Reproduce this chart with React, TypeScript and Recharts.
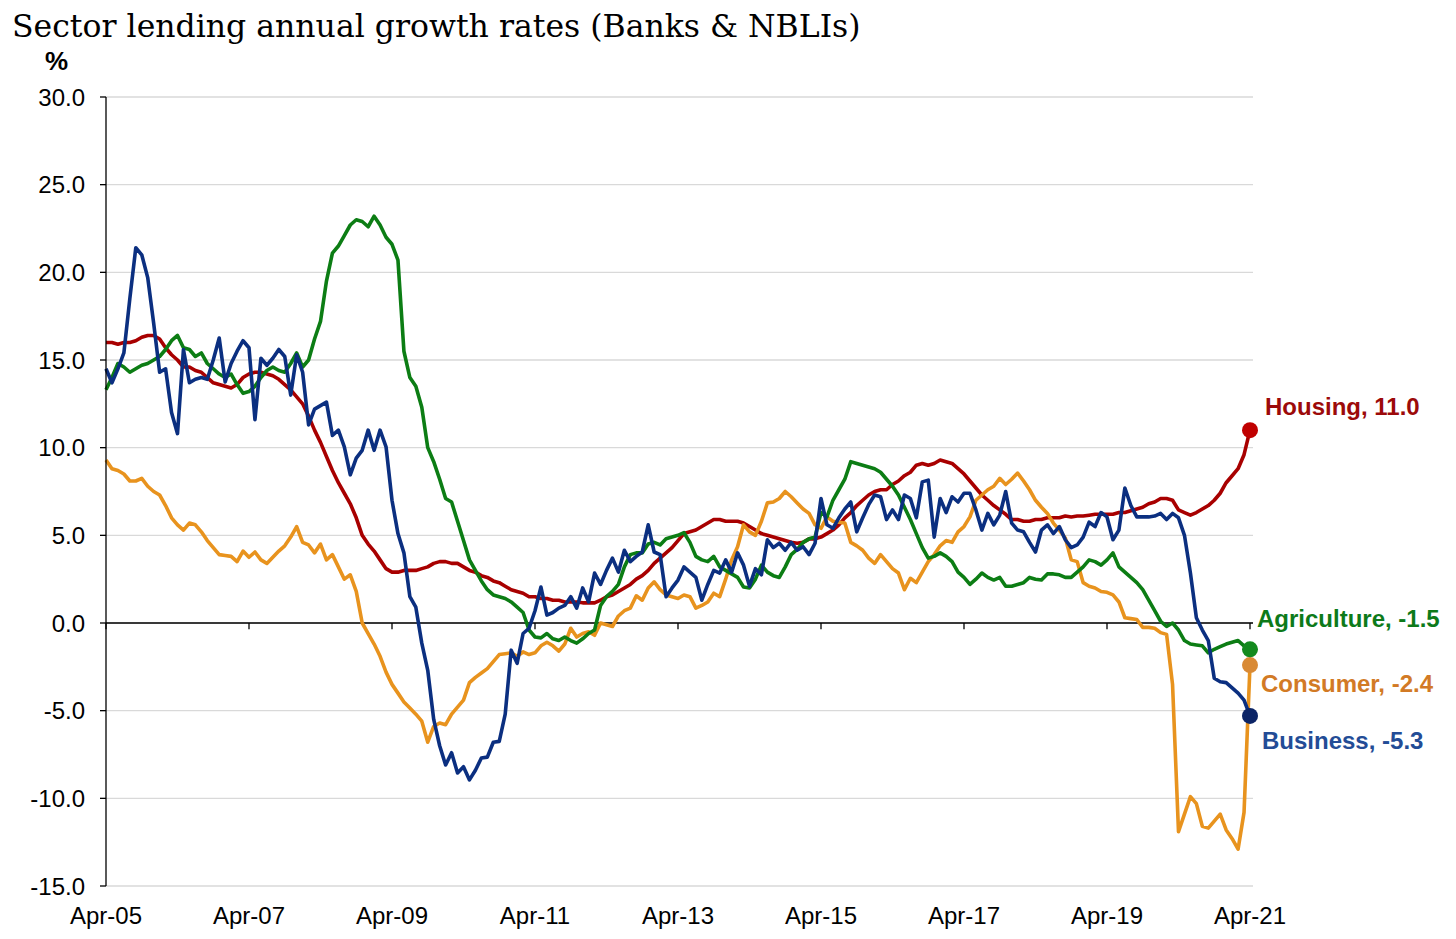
import { LineChart, Line, XAxis, YAxis, CartesianGrid, ReferenceLine, ReferenceDot } from 'recharts'

const MONTH_NAMES = ['Jan', 'Feb', 'Mar', 'Apr', 'May', 'Jun', 'Jul', 'Aug', 'Sep', 'Oct', 'Nov', 'Dec']

// monthly categories, Apr-05 .. Apr-21
const MONTHS = Array.from({ length: 193 }, (_, i) => {
  const m = 3 + i
  return `${MONTH_NAMES[m % 12]}-${String(5 + Math.floor(m / 12)).padStart(2, '0')}`
})

const TICK_LABELS = ['Apr-05', 'Apr-07', 'Apr-09', 'Apr-11', 'Apr-13', 'Apr-15', 'Apr-17', 'Apr-19', 'Apr-21']
const Y_TICKS = [-15, -10, -5, 0, 5, 10, 15, 20, 25, 30]

const HOUSING = [
  16.0, 16.0, 15.9, 16.0, 16.0, 16.1, 16.3, 16.4, 16.4, 16.2, 15.7, 15.3,
  15.0, 14.6, 14.6, 14.4, 14.3, 14.0, 13.7, 13.6, 13.5, 13.4, 13.6, 14.0,
  14.2, 14.3, 14.3, 14.2, 14.1, 13.9, 13.6, 13.3, 12.9, 12.5, 11.8, 11.0,
  10.3, 9.5, 8.7, 8.0, 7.4, 6.8, 6.0, 5.0, 4.5, 4.1, 3.6, 3.1,
  2.9, 2.9, 3.0, 3.0, 3.0, 3.1, 3.2, 3.4, 3.5, 3.5, 3.4, 3.4,
  3.2, 3.0, 2.9, 2.7, 2.6, 2.4, 2.3, 2.1, 1.9, 1.8, 1.7, 1.5,
  1.5, 1.4, 1.4, 1.3, 1.3, 1.2, 1.2, 1.2, 1.15, 1.15, 1.15, 1.3,
  1.5, 1.6, 1.8, 2.0, 2.2, 2.5, 2.7, 3.0, 3.4, 3.7, 4.0, 4.3,
  4.7, 5.1, 5.2, 5.3, 5.5, 5.7, 5.9, 5.9, 5.8, 5.8, 5.8, 5.7,
  5.5, 5.3, 5.1, 5.0, 4.9, 4.8, 4.7, 4.6, 4.55, 4.6, 4.8, 4.8,
  4.9, 5.1, 5.3, 5.6, 6.0, 6.3, 6.7, 7.0, 7.3, 7.5, 7.6, 7.6,
  7.9, 8.1, 8.4, 8.6, 9.0, 9.1, 9.0, 9.1, 9.3, 9.2, 9.1, 8.8,
  8.5, 8.1, 7.7, 7.3, 7.0, 6.7, 6.45, 6.2, 5.9, 5.9, 5.8, 5.8,
  5.9, 5.9, 6.0, 6.0, 6.0, 6.1, 6.05, 6.1, 6.1, 6.15, 6.2, 6.2,
  6.2, 6.2, 6.3, 6.3, 6.4, 6.5, 6.6, 6.8, 6.9, 7.1, 7.1, 7.0,
  6.45, 6.3, 6.15, 6.3, 6.5, 6.7, 7.0, 7.4, 8.0, 8.4, 8.8, 9.6,
  11.0,
]

const AGRICULTURE = [
  13.3, 14.0, 14.8, 14.6, 14.3, 14.5, 14.7, 14.8, 15.0, 15.2, 15.6, 16.1,
  16.4, 15.7, 15.6, 15.2, 15.4, 14.8, 14.5, 14.2, 14.0, 14.2, 13.6, 13.1,
  13.2, 13.5, 14.0, 14.4, 14.6, 14.4, 14.3, 14.8, 15.4, 14.6, 15.0, 16.2,
  17.2, 19.5, 21.1, 21.5, 22.1, 22.7, 23.0, 22.9, 22.6, 23.2, 22.7, 22.0,
  21.6, 20.7, 15.5, 14.0, 13.5, 12.3, 10.0, 9.2, 8.2, 7.1, 6.9, 5.8,
  4.7, 3.6, 3.0, 2.4, 1.9, 1.6, 1.5, 1.4, 1.2, 0.9, 0.6, -0.4,
  -0.8, -0.85, -0.6, -0.9, -1.0, -0.8, -1.0, -1.15, -0.9, -0.6, -0.4, 1.0,
  1.5, 1.8, 2.2, 3.2, 3.9, 4.0, 4.0, 4.5, 4.6, 4.45, 4.8, 4.9,
  5.0, 5.15, 4.6, 3.8, 3.6, 3.5, 3.8, 3.2, 3.0, 2.8, 2.6, 2.05,
  2.0, 2.5, 3.3, 2.9, 2.7, 2.6, 3.2, 3.9, 4.2, 4.6, 4.8, 4.9,
  6.3, 6.05, 7.0, 7.6, 8.2, 9.2, 9.1, 9.0, 8.9, 8.8, 8.6, 8.2,
  7.8, 7.3, 6.6, 5.9, 5.1, 4.3, 3.7, 3.8, 4.0, 3.8, 3.5, 2.9,
  2.6, 2.2, 2.5, 2.85, 2.6, 2.45, 2.6, 2.1, 2.1, 2.2, 2.3, 2.6,
  2.5, 2.45, 2.8, 2.8, 2.75, 2.6, 2.6, 2.9, 3.2, 3.6, 3.5, 3.3,
  3.6, 4.0, 3.2, 2.9, 2.6, 2.3, 1.9, 1.3, 0.7, 0.1, -0.2, 0.0,
  -0.4, -1.0, -1.2, -1.25, -1.3, -1.7, -1.5, -1.35, -1.2, -1.1, -1.0, -1.3,
  -1.5,
]

const CONSUMER = [
  9.3, 8.8, 8.7, 8.5, 8.1, 8.1, 8.25, 7.8, 7.5, 7.3, 6.7, 6.0,
  5.6, 5.3, 5.7, 5.6, 5.2, 4.7, 4.3, 3.9, 3.85, 3.8, 3.5, 4.1,
  3.75, 4.05, 3.6, 3.4, 3.75, 4.1, 4.4, 4.9, 5.5, 4.6, 4.45, 4.0,
  4.5, 3.6, 3.9, 3.2, 2.5, 2.75, 1.8, 0.0, -0.6, -1.2, -1.9, -2.8,
  -3.5, -4.0, -4.5, -4.85, -5.2, -5.6, -6.8, -5.9, -5.7, -5.8, -5.2, -4.8,
  -4.4, -3.4, -3.1, -2.85, -2.6, -2.2, -1.8, -1.75, -1.7, -1.9, -1.65, -1.8,
  -1.7, -1.3, -1.1, -1.3, -1.6, -1.2, -0.3, -0.8, -0.6, -0.5, -0.7, 0.0,
  -0.1, -0.2, 0.4, 0.7, 0.85, 1.55, 1.3, 2.0, 2.35, 1.9, 1.6, 1.5,
  1.4, 1.6, 1.5, 0.85, 1.0, 1.2, 1.7, 1.5, 2.5, 3.6, 4.35, 5.6,
  5.2, 5.0, 5.8, 6.85, 6.9, 7.1, 7.5, 7.2, 6.85, 6.5, 6.25, 5.6,
  5.4, 6.05, 5.8, 5.75, 5.7, 4.6, 4.4, 4.15, 3.7, 3.4, 3.9, 3.5,
  3.1, 2.85, 1.9, 2.55, 2.3, 2.9, 3.5, 3.9, 4.4, 4.7, 4.6, 5.2,
  5.5, 6.05, 7.0, 7.3, 7.6, 7.8, 8.25, 7.9, 8.2, 8.55, 8.1, 7.6,
  7.0, 6.6, 6.25, 5.7, 5.3, 4.85, 3.6, 3.5, 2.3, 2.1, 2.0, 1.8,
  1.75, 1.6, 1.2, 0.3, 0.25, 0.2, -0.25, -0.25, -0.3, -0.55, -0.65, -3.5,
  -11.9, -10.9, -9.9, -10.3, -11.6, -11.7, -11.3, -10.9, -11.8, -12.3, -12.9, -10.8,
  -2.4,
]

const BUSINESS = [
  14.5, 13.7, 14.5, 15.4, 18.5, 21.4, 21.0, 19.7, 17.1, 14.3, 14.5, 12.0,
  10.8, 15.6, 13.7, 13.9, 14.0, 13.9, 15.0, 16.25, 13.75, 14.8, 15.5, 16.1,
  15.7, 11.6, 15.1, 14.7, 15.1, 15.6, 15.2, 13.0, 15.3, 14.3, 11.3, 12.2,
  12.4, 12.6, 10.7, 11.0, 10.05, 8.45, 9.4, 9.85, 11.0, 9.85, 11.0, 10.05,
  7.0, 5.1, 4.0, 1.5, 0.9, -1.15, -2.7, -5.5, -7.0, -8.1, -7.4, -8.55,
  -8.2, -8.95, -8.4, -7.7, -7.65, -6.8, -6.75, -5.2, -1.55, -2.3, -0.6, -0.3,
  0.7, 2.05, 0.45, 0.6, 0.85, 1.0, 1.5, 0.85, 2.0, 1.2, 2.85, 2.2,
  3.0, 3.7, 2.9, 4.15, 3.5, 3.8, 4.05, 5.6, 4.05, 3.9, 1.5, 2.0,
  2.45, 3.2, 2.9, 2.6, 1.3, 2.2, 3.0, 2.85, 3.6, 2.9, 4.0, 3.3,
  2.1, 3.1, 2.75, 4.75, 4.3, 4.55, 4.15, 4.6, 4.15, 4.35, 3.9, 4.55,
  7.1, 5.6, 5.4, 6.0, 6.5, 6.9, 5.2, 6.0, 6.75, 7.3, 7.2, 5.9,
  6.45, 5.9, 7.3, 7.1, 6.0, 8.05, 8.15, 4.9, 7.1, 6.3, 7.2, 6.9,
  7.4, 7.4, 6.45, 5.3, 6.25, 5.6, 6.15, 7.5, 5.7, 5.3, 5.2, 4.6,
  4.05, 5.3, 5.6, 5.1, 5.5, 4.75, 4.3, 4.45, 4.9, 5.75, 5.5, 6.3,
  6.05, 4.75, 5.3, 7.7, 6.7, 6.05, 6.05, 6.05, 6.1, 6.25, 5.9, 6.25,
  6.0, 5.0, 2.85, 0.3, -0.4, -1.0, -3.15, -3.35, -3.4, -3.7, -4.0, -4.4,
  -5.3,
]

const SERIES = [
  { key: 'housing', name: 'Housing', values: HOUSING, color: '#a80000', dotColor: '#c00000', labelColor: '#9c0a0a', dx: 15, dy: -15 },
  { key: 'consumer', name: 'Consumer', values: CONSUMER, color: '#e8931e', dotColor: '#d98a35', labelColor: '#d27a25', dx: 11, dy: 27 },
  { key: 'agriculture', name: 'Agriculture', values: AGRICULTURE, color: '#0c7d14', dotColor: '#138a1e', labelColor: '#0d7a1a', dx: 7, dy: -22 },
  { key: 'business', name: 'Business', values: BUSINESS, color: '#0b2f80', dotColor: '#0b2466', labelColor: '#234c96', dx: 12, dy: 33 },
]

const data = MONTHS.map((month, i) => {
  const row: Record<string, string | number> = { month }
  SERIES.forEach(s => { row[s.key] = s.values[i] })
  return row
})

const LAST = MONTHS[MONTHS.length - 1]

function EndMarker(props: any) {
  const { cx, cy, s } = props
  const last = s.values[s.values.length - 1]
  return (
    <g>
      <circle cx={cx} cy={cy} r={8} fill={s.dotColor} />
      <text x={cx + s.dx} y={cy + s.dy} fill={s.labelColor} fontSize={24} fontWeight="bold">
        {`${s.name}, ${last.toFixed(1)}`}
      </text>
    </g>
  )
}

export default function App() {
  const font = '"Liberation Sans", Arial, sans-serif'
  return (
    <div style={{ position: 'relative', width: 1440, height: 925, fontFamily: font }}>
      <LineChart width={1440} height={925} data={data} margin={{ top: 89, right: 195, bottom: 7, left: 0 }}>
        <CartesianGrid vertical={false} stroke="#d9d9d9" strokeWidth={1.3} />
        <XAxis
          dataKey="month"
          ticks={TICK_LABELS}
          interval={0}
          axisLine={false}
          tickLine={false}
          tickSize={0}
          tickMargin={21}
          height={40}
          padding={{ left: 0, right: 3 }}
          tick={{ fontSize: 24, fill: '#000', fontFamily: font }}
        />
        <YAxis
          type="number"
          domain={[-15, 30]}
          ticks={Y_TICKS}
          interval={0}
          width={98}
          tickSize={6}
          tickMargin={15}
          axisLine={{ stroke: '#000', strokeWidth: 1.3 }}
          tickLine={{ stroke: '#000', strokeWidth: 1.3 }}
          tickFormatter={(v: number) => v.toFixed(1)}
          tick={{ fontSize: 24, fill: '#000', fontFamily: font }}
        />
        <ReferenceLine y={0} stroke="#000" strokeWidth={1.5} />
        {TICK_LABELS.map(t => (
          <ReferenceLine
            key={t}
            segment={[{ x: t, y: 0 }, { x: t, y: -0.35 }]}
            stroke="#000"
            strokeWidth={1.3}
            ifOverflow="visible"
          />
        ))}
        {SERIES.map(s => (
          <Line
            key={s.key}
            type="linear"
            dataKey={s.key}
            stroke={s.color}
            strokeWidth={3.6}
            strokeLinejoin="round"
            dot={false}
            activeDot={false}
            isAnimationActive={false}
          />
        ))}
        {SERIES.map(s => (
          <ReferenceDot
            key={`end-${s.key}`}
            x={LAST}
            y={s.values[s.values.length - 1]}
            r={8}
            ifOverflow="visible"
            shape={(p: any) => <EndMarker {...p} s={s} />}
          />
        ))}
      </LineChart>
      <svg width={1440} height={90} style={{ position: 'absolute', left: 0, top: 0, pointerEvents: 'none' }}>
        <text x={4} y={29} fontFamily='"DejaVu Serif", serif' fontSize={31.5} fill="#000">
          Sector lending annual growth rates (Banks &amp; NBLIs)
        </text>
        <text x={37} y={62} fontFamily={font} fontSize={26} fontWeight="bold" fill="#000">
          %
        </text>
      </svg>
    </div>
  )
}
